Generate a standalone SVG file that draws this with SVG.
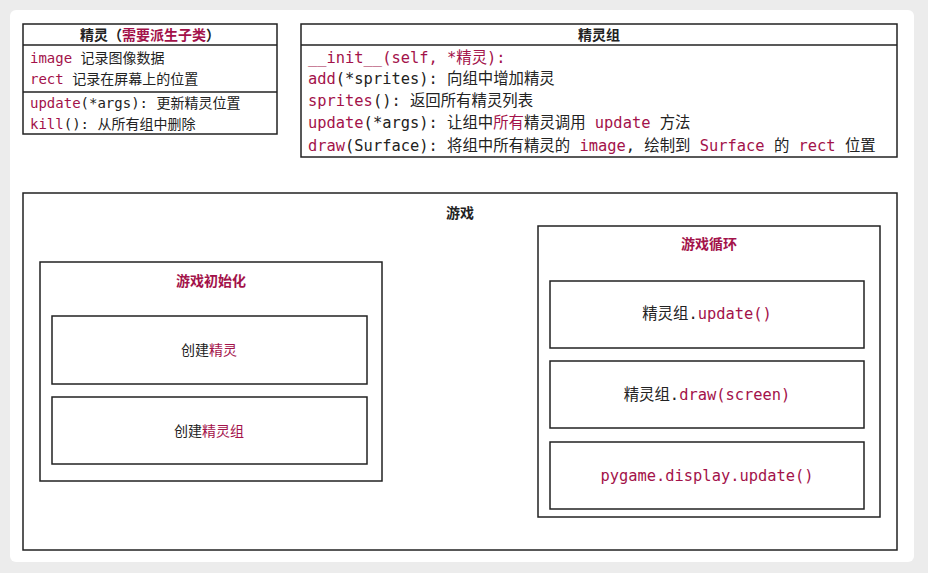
<svg xmlns="http://www.w3.org/2000/svg" width="928" height="573" viewBox="0 0 928 573">
<style>
.b{fill:#fff;stroke:#222;stroke-width:1.5}
.t{font-family:"DejaVu Sans Mono","Noto Sans CJK SC",monospace;font-size:14px;fill:#222}
.g{font-size:15.4px}
.h{font-family:"Noto Sans CJK SC",sans-serif;font-size:14px;font-weight:bold;fill:#222}
.r{fill:#a3124a}
.c{text-anchor:middle}
</style>
<rect width="928" height="573" fill="#ececec"/>
<rect x="10" y="10" width="904" height="552" rx="6" fill="#fff"/>
<g id="sprite">
<rect class="b" x="23" y="24" width="254" height="110"/>
<line x1="23" y1="45" x2="277" y2="45" stroke="#222" stroke-width="1.5"/>
<line x1="23" y1="92" x2="277" y2="92" stroke="#222" stroke-width="1.5"/>
<text class="h c" x="150" y="40">精灵（<tspan class="r">需要派生子类</tspan>）</text>
<text class="t" x="30" y="63"><tspan class="r">image</tspan> 记录图像数据</text>
<text class="t" x="30" y="84"><tspan class="r">rect</tspan> 记录在屏幕上的位置</text>
<text class="t" x="30" y="108"><tspan class="r">update</tspan>(*args): 更新精灵位置</text>
<text class="t" x="30" y="129"><tspan class="r">kill</tspan>(): 从所有组中删除</text>
</g>
<g id="group">
<rect class="b" x="301" y="24" width="596" height="133"/>
<line x1="301" y1="45" x2="897" y2="45" stroke="#222" stroke-width="1.5"/>
<text class="h c" x="599" y="40">精灵组</text>
<text class="t g r" x="308" y="63">__init__(self, *精灵):</text>
<text class="t g" x="308" y="84"><tspan class="r">add</tspan>(*sprites): 向组中增加精灵</text>
<text class="t g" x="308" y="106"><tspan class="r">sprites</tspan>(): 返回所有精灵列表</text>
<text class="t g" x="308" y="128"><tspan class="r">update</tspan>(*args): 让组中<tspan class="r">所有</tspan>精灵调用 <tspan class="r">update</tspan> 方法</text>
<text class="t g" x="308" y="151"><tspan class="r">draw</tspan>(Surface): 将组中所有精灵的 <tspan class="r">image</tspan>, 绘制到 <tspan class="r">Surface</tspan> 的 <tspan class="r">rect</tspan> 位置</text>
</g>
<g id="game">
<rect class="b" x="23" y="193" width="874" height="357"/>
<text class="h c" x="460" y="218">游戏</text>
</g>
<g id="init">
<rect class="b" x="40" y="262" width="342" height="219"/>
<text class="h c r" x="211" y="286">游戏初始化</text>
</g>
<g id="create-sprite">
<rect class="b" x="52" y="316" width="315" height="68"/>
<text class="t c" x="209" y="355">创建<tspan class="r">精灵</tspan></text>
</g>
<g id="create-group">
<rect class="b" x="52" y="397" width="315" height="67"/>
<text class="t c" x="209" y="436">创建<tspan class="r">精灵组</tspan></text>
</g>
<g id="loop">
<rect class="b" x="538" y="226" width="342" height="291"/>
<text class="h c r" x="709" y="249">游戏循环</text>
</g>
<g id="upd">
<rect class="b" x="550" y="281" width="314" height="67"/>
<text class="t g c" x="707" y="319">精灵组.<tspan class="r">update()</tspan></text>
</g>
<g id="draw">
<rect class="b" x="550" y="361" width="314" height="67"/>
<text class="t g c" x="707" y="400">精灵组.<tspan class="r">draw(screen)</tspan></text>
</g>
<g id="disp">
<rect class="b" x="550" y="442" width="314" height="67"/>
<text class="t g c r" x="707" y="481">pygame.display.update()</text>
</g>
<g id="connectors"/>
</svg>
